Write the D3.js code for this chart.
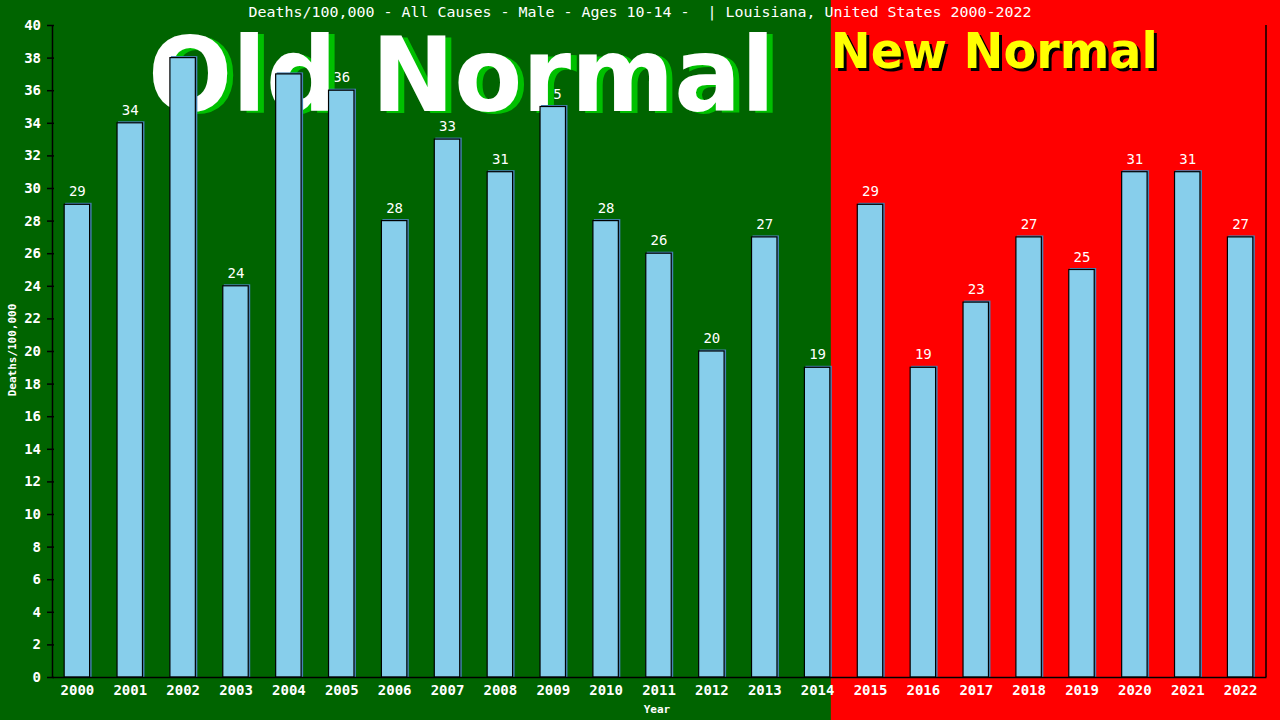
<!DOCTYPE html>
<html>
<head>
<meta charset="utf-8">
<script src="https://cdn.jsdelivr.net/npm/d3@7"></script>
<style>
  body { margin: 0; background: #006400; }
  svg { display: block; font-family: "DejaVu Sans Mono", monospace; }
</style>
</head>
<body>
<div id="chart"></div>
<script>
const width = 1280;
const height = 720;
const margin = { top: 25, right: 14, bottom: 43, left: 52 };

const years = ["2000", "2001", "2002", "2003", "2004", "2005", "2006", "2007",
  "2008", "2009", "2010", "2011", "2012", "2013", "2014", "2015", "2016",
  "2017", "2018", "2019", "2020", "2021", "2022"];
const deaths = [29, 34, 38, 24, 37, 36, 28, 33, 31, 35, 28, 26, 20, 27, 19,
  29, 19, 23, 27, 25, 31, 31, 27];
const yTicks = d3.range(0, 41, 2);
const lastOldYear = "2014";

const title = "Deaths/100,000 - All Causes - Male - Ages 10-14 -  | Louisiana, United States 2000-2022";

const data = years.map((y, i) => ({ year: y, value: deaths[i] }));

const svg = d3.select("#chart")
  .append("svg")
  .attr("width", width)
  .attr("height", height);

const x = d3.scaleBand()
  .domain(years)
  .range([margin.left, width - margin.right])
  .paddingInner(0.5)
  .paddingOuter(0.23);

const y = d3.scaleLinear()
  .domain([0, 40])
  .range([height - margin.bottom, margin.top]);

// split background: green for old normal, red for new normal
const split = x(lastOldYear) + x.bandwidth();
svg.append("rect")
  .attr("x", 0).attr("y", 0)
  .attr("width", split).attr("height", height)
  .attr("fill", "#006400");
svg.append("rect")
  .attr("x", split).attr("y", 0)
  .attr("width", width - split).attr("height", height)
  .attr("fill", "#ff0000");

// value labels (sit under the big banner text)
svg.append("g")
  .selectAll("text")
  .data(data)
  .enter()
  .append("text")
  .attr("x", d => x(d.year) + x.bandwidth() / 2)
  .attr("y", d => y(d.value) - 8)
  .attr("text-anchor", "middle")
  .attr("fill", "#fff")
  .style("font-size", "14px")
  .text(d => d.value);

// banners
function banner(txt, px, py, size, len, fill, shadow, dx, dy) {
  [[shadow, dx, dy], [fill, 0, 0]].forEach(([c, ox, oy]) => {
    svg.append("text")
      .attr("x", px + ox).attr("y", py + oy)
      .attr("textLength", len).attr("lengthAdjust", "spacingAndGlyphs")
      .attr("fill", c)
      .style("font-family", "'DejaVu Sans', sans-serif")
      .style("font-weight", "bold")
      .style("font-size", size + "px")
      .text(txt);
  });
}
banner("Old Normal", 148, 111, 104, 627, "#fff", "#00c000", 6, 2);
banner("New Normal", split, 68, 50, 327, "#ffff00", "#000", 3, 3);

// bars with a thin steelblue shadow
const bars = svg.append("g")
  .selectAll("g")
  .data(data)
  .enter()
  .append("g");

bars.append("rect")
  .attr("x", d => x(d.year) + 1)
  .attr("y", d => y(d.value) - 1.5)
  .attr("width", x.bandwidth())
  .attr("height", d => y(0) - y(d.value) + 1.5)
  .attr("fill", "#4682b4");

bars.append("rect")
  .attr("x", d => x(d.year))
  .attr("y", d => y(d.value))
  .attr("width", x.bandwidth() - 1)
  .attr("height", d => y(0) - y(d.value))
  .attr("fill", "#87ceeb")
  .attr("stroke", "#000")
  .attr("stroke-width", 1.2);

// axes
const yAxis = d3.axisLeft(y)
  .tickValues(yTicks)
  .tickSizeInner(5)
  .tickSizeOuter(0)
  .tickPadding(6);

const gy = svg.append("g")
  .attr("transform", `translate(${margin.left},0)`)
  .call(yAxis);
gy.select(".domain").attr("stroke", "#000").attr("stroke-width", 1.5);
gy.selectAll(".tick line").attr("x2", 2).attr("x1", -5).attr("stroke", "#000").attr("stroke-width", 1.5);
gy.selectAll(".tick text")
  .attr("fill", "#fff")
  .style("font-size", "14px")
  .style("font-weight", "bold")
  .style("font-family", "'DejaVu Sans Mono', monospace");

const xAxis = d3.axisBottom(x)
  .tickSize(0)
  .tickPadding(8);

const gx = svg.append("g")
  .attr("transform", `translate(0,${y(0)})`)
  .call(xAxis);
gx.select(".domain").attr("stroke", "#000").attr("stroke-width", 1.5);
gx.selectAll(".tick text")
  .attr("fill", "#fff")
  .style("font-size", "14px")
  .style("font-weight", "bold")
  .style("font-family", "'DejaVu Sans Mono', monospace");

// right border
svg.append("line")
  .attr("x1", width - margin.right).attr("x2", width - margin.right)
  .attr("y1", y(40)).attr("y2", y(0))
  .attr("stroke", "#000").attr("stroke-width", 1.5);

// title and axis titles
svg.append("text")
  .attr("x", 640).attr("y", 17)
  .attr("text-anchor", "middle")
  .attr("xml:space", "preserve")
  .attr("textLength", 783).attr("lengthAdjust", "spacingAndGlyphs")
  .attr("fill", "#fff")
  .style("font-size", "14px")
  .text(title);

svg.append("text")
  .attr("transform", "translate(16,350) rotate(-90)")
  .attr("text-anchor", "middle")
  .attr("fill", "#fff")
  .style("font-size", "11px")
  .style("font-weight", "bold")
  .text("Deaths/100,000");

svg.append("text")
  .attr("x", 657).attr("y", 713)
  .attr("text-anchor", "middle")
  .attr("fill", "#fff")
  .style("font-size", "11px")
  .style("font-weight", "bold")
  .text("Year");
</script>
</body>
</html>
